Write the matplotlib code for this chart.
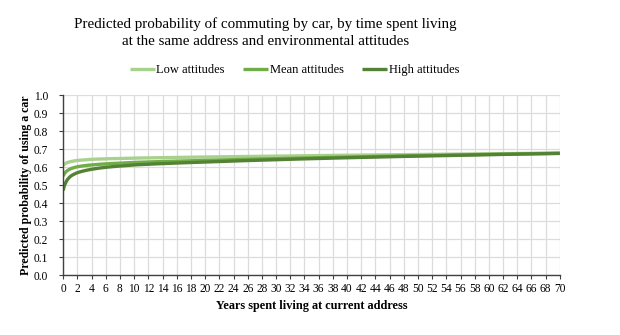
import numpy as np
import matplotlib
matplotlib.use("Agg")
import matplotlib.pyplot as plt

plt.rcParams["font.family"] = ["Liberation Serif", "DejaVu Serif"]

# years at current address and predicted probabilities per attitude group
years = [0, 0.25, 0.5, 1, 2, 3, 4, 6, 8, 10, 15, 20, 30, 40, 50, 60, 70]
low_att = [0.610, 0.618, 0.624, 0.630, 0.637, 0.640, 0.643, 0.646, 0.648, 0.650,
           0.653, 0.656, 0.661, 0.666, 0.670, 0.674, 0.678]
mean_att = [0.550, 0.568, 0.578, 0.590, 0.602, 0.608, 0.612, 0.618, 0.622, 0.626,
            0.632, 0.637, 0.647, 0.656, 0.664, 0.671, 0.677]
high_att = [0.470, 0.505, 0.525, 0.548, 0.569, 0.580, 0.588, 0.599, 0.606, 0.612,
            0.621, 0.628, 0.641, 0.652, 0.661, 0.669, 0.676]

series = [("Low attitudes", low_att, "#a9d18e"),
          ("Mean attitudes", mean_att, "#70ad47"),
          ("High attitudes", high_att, "#548235")]

fig = plt.figure(figsize=(6.2, 3.35), dpi=100)
ax = fig.add_axes([0.102, 0.179, 0.801, 0.537])

xs = np.linspace(0, 70, 1401)
for label, vals, color in series:
    # smooth the read-off points with a log-ish interpolation in x
    ys = np.interp(np.log1p(xs * 8), np.log1p(np.array(years) * 8), vals)
    ax.plot(xs, ys, color=color, lw=2.4, label=label, solid_capstyle="butt")

ax.set_xlim(0, 70)
ax.set_ylim(0, 1.0)
ax.set_xticks(np.arange(0, 71, 2))
ax.set_yticks(np.arange(0, 1.01, 0.1))
ax.set_yticklabels([f"{v:.1f}" for v in np.arange(0, 1.01, 0.1)])
ax.grid(True, color="#dcdcdc", lw=0.9)
ax.set_axisbelow(True)
for s in ["top", "right"]:
    ax.spines[s].set_visible(False)
for s in ["left", "bottom"]:
    ax.spines[s].set_color("#404040")
    ax.spines[s].set_linewidth(1.0)
ax.tick_params(axis="both", labelsize=8.3, length=3, color="#404040")
ax.tick_params(axis="x", pad=3)
ax.tick_params(axis="y", pad=8)

ax.set_xlabel("Years spent living at current address", fontsize=8.8,
              fontweight="bold", labelpad=3)
ax.set_ylabel("Predicted probability of using a car", fontsize=8.6,
              fontweight="bold", labelpad=1)

fig.text(0.428, 0.903, "Predicted probability of commuting by car, by time spent living\n"
         "at the same address and environmental attitudes",
         ha="center", va="center", fontsize=10.8, linespacing=1.45)

fig.legend(loc="center", bbox_to_anchor=(0.475, 0.791), ncol=3, frameon=False,
           fontsize=9, handlelength=2.0, handletextpad=0.15, columnspacing=1.45)

fig.savefig("out.png", dpi=100)
